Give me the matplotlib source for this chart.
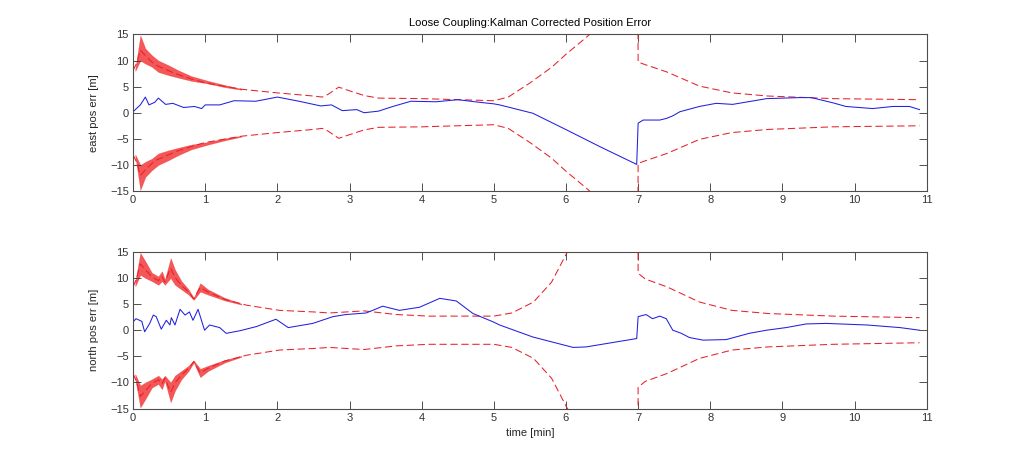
import numpy as np
import matplotlib
matplotlib.use('Agg')
from matplotlib import pyplot as plt

plt.rcParams['font.family'] = ['Liberation Sans', 'DejaVu Sans']
plt.rcParams['font.size'] = 8

# east: 1-sigma envelope (drawn +/-) and corrected error
east_sig_t = [0, 0.05, 0.1, 0.2, 0.3, 0.5, 0.6, 0.8, 1.0, 1.5, 2.0, 2.5, 2.62, 2.7, 2.85,
              3.0, 3.2, 3.4, 4.0, 4.5, 5.0, 5.2, 5.5, 5.8, 6.0, 6.2, 6.5, 6.99, 7.0, 7.1,
              7.4, 7.85, 8.3, 8.8, 9.7, 10.9]
east_sig = [8.1, 9.5, 12.0, 10.5, 9.2, 8.0, 7.4, 6.5, 5.7, 4.5, 3.8, 3.2, 3.0, 3.5, 4.9,
            4.2, 3.3, 2.8, 2.7, 2.5, 2.3, 3.0, 5.7, 8.7, 11.2, 13.5, 17.0, 40.0, 9.7, 9.2,
            7.8, 5.1, 3.8, 3.2, 2.7, 2.5]
# noisy part of the envelope at start-up
east_band_t = [0.03, 0.1, 0.17, 0.26, 0.35, 0.49, 0.63, 0.81, 1.04, 1.27, 1.5]
east_band_hi = [8.4, 14.8, 12.3, 11.0, 10.0, 9.1, 8.1, 7.0, 6.1, 5.3, 4.6]
east_band_lo = [8.0, 10.0, 9.4, 8.8, 7.8, 7.2, 6.7, 6.1, 5.6, 4.9, 4.4]

east_err_t = [0, 0.1, 0.17, 0.22, 0.3, 0.35, 0.45, 0.55, 0.7, 0.85, 0.95, 1.0, 1.2, 1.4,
              1.7, 2.0, 2.3, 2.6, 2.75, 2.9, 3.1, 3.2, 3.4, 3.6, 3.85, 4.2, 4.5, 4.8, 5.0,
              5.08, 5.54, 6.01, 6.47, 6.98, 7.0, 7.07, 7.3, 7.39, 7.48, 7.58, 7.85, 8.08,
              8.31, 8.78, 9.24, 9.4, 9.7, 9.88, 10.25, 10.53, 10.76, 10.9]
east_err = [0.2, 1.5, 3.0, 1.5, 2.0, 2.8, 1.6, 1.8, 1.0, 1.2, 0.8, 1.5, 1.5, 2.3,
            2.2, 3.0, 2.2, 1.3, 1.5, 0.4, 0.6, 0.0, 0.3, 1.2, 2.2, 2.1, 2.5, 2.0, 1.7,
            1.5, -0.1, -3.3, -6.5, -9.9, -2.0, -1.4, -1.4, -1.1, -0.6, 0.2, 1.2, 1.8,
            1.6, 2.7, 2.9, 2.9, 1.9, 1.2, 0.8, 1.2, 1.2, 0.6]

# north
north_sig_t = [0, 0.05, 0.1, 0.17, 0.26, 0.35, 0.40, 0.44, 0.52, 0.58, 0.67, 0.77, 0.84,
               0.93, 1.04, 1.27, 1.57, 2.03, 2.5, 2.72, 3.2, 3.65, 4.1, 5.0, 5.25, 5.55,
               5.8, 6.0, 6.3, 6.99, 7.0, 7.1, 7.4, 7.85, 8.3, 8.8, 9.7, 10.9]
north_sig = [8.3, 10.0, 12.7, 11.6, 10.2, 9.5, 10.3, 9.2, 11.9, 10.1, 8.6, 7.3, 6.0,
             8.2, 7.3, 5.9, 4.8, 3.8, 3.5, 3.3, 3.7, 3.0, 2.7, 2.7, 3.3, 5.4,
             9.2, 14.5, 22.0, 40.0, 10.9, 9.8, 8.3, 5.4, 3.8, 3.2, 2.7, 2.4]
north_band_t = [0.03, 0.1, 0.17, 0.26, 0.35, 0.40, 0.44, 0.52, 0.58, 0.67, 0.77, 0.84,
                0.93, 1.04, 1.27, 1.5]
north_band_hi = [9.4, 14.8, 13.2, 11.0, 10.3, 11.3, 9.7, 13.8, 11.6, 9.4, 7.8, 6.2,
                 9.0, 7.8, 6.2, 5.1]
north_band_lo = [8.4, 10.6, 10.0, 9.4, 8.7, 9.4, 8.7, 10.0, 8.7, 7.8, 6.8, 5.8,
                 7.4, 6.8, 5.7, 4.9]

north_err_t = [0, 0.04, 0.12, 0.16, 0.23, 0.28, 0.32, 0.39, 0.46, 0.51, 0.53, 0.58, 0.65,
               0.72, 0.78, 0.83, 0.9, 0.99, 1.06, 1.2, 1.29, 1.48, 1.71, 1.98, 2.15, 2.49,
               2.77, 2.95, 3.23, 3.32, 3.46, 3.69, 3.97, 4.25, 4.48, 4.71, 4.99, 5.08, 5.54,
               6.1, 6.28, 6.98, 7.0, 7.11, 7.2, 7.3, 7.39, 7.48, 7.6, 7.71, 7.9, 8.22,
               8.54, 8.78, 9.05, 9.33, 9.61, 10.17, 10.63, 10.9]
north_err = [1.6, 2.2, 1.7, -0.3, 1.3, 2.9, 2.6, 0.2, 1.9, 1.0, 2.4, 1.0, 4.0,
             2.9, 3.5, 1.9, 4.0, 0.0, 1.0, 0.5, -0.6, -0.1, 0.7, 2.1, 0.5, 1.3,
             2.6, 3.0, 3.3, 3.8, 4.6, 3.8, 4.4, 6.1, 5.6, 3.2, 1.6, 1.0, -1.3,
             -3.3, -3.2, -1.6, 2.6, 3.0, 2.2, 2.7, 2.2, 0.0, -0.6, -1.4, -1.9, -1.8,
             -0.6, 0.0, 0.5, 1.2, 1.3, 1.0, 0.5, 0.0]

panels = [
    (east_sig_t, east_sig, east_band_t, east_band_hi, east_band_lo,
     east_err_t, east_err, 'east pos err [m]'),
    (north_sig_t, north_sig, north_band_t, north_band_hi, north_band_lo,
     north_err_t, north_err, 'north pos err [m]'),
]

fig = plt.figure(figsize=(10.24, 4.59), dpi=100)
axes = [fig.add_axes([0.13, 0.5838, 0.775, 0.3412]),
        fig.add_axes([0.13, 0.11, 0.775, 0.3412])]

for ax, (st, s, bt, bhi, blo, et, e, ylab) in zip(axes, panels):
    st = np.array(st)
    s = np.array(s)
    ax.plot(st, s, color='#e8202a', lw=0.75, dashes=(7, 3.5))
    ax.plot(st, -s, color='#e8202a', lw=0.75, dashes=(7, 3.5))
    ax.fill_between(bt, bhi, blo, color='#f01010', lw=0.2, alpha=0.7)
    ax.fill_between(bt, -np.array(bhi), -np.array(blo), color='#f01010', lw=0.2, alpha=0.7)
    ax.plot(et, e, color='#2020e0', lw=0.75)

    ax.set_xlim(0, 11)
    ax.set_ylim(-15, 15)
    ax.set_xticks(range(0, 12))
    ax.set_yticks(range(-15, 16, 5))
    ax.tick_params(direction='in', top=True, right=True, length=6, width=0.6,
                   labelsize=8, colors='0.2', pad=3)
    for sp in ax.spines.values():
        sp.set_color('0.3')
        sp.set_linewidth(0.8)
    ax.set_ylabel(ylab, fontsize=8, color='0.15', labelpad=8)

axes[0].set_title('Loose Coupling:Kalman Corrected Position Error', fontsize=8, pad=6)
axes[1].set_xlabel('time [min]', fontsize=8, color='0.15', labelpad=4)

fig.savefig('out.png', dpi=100)
